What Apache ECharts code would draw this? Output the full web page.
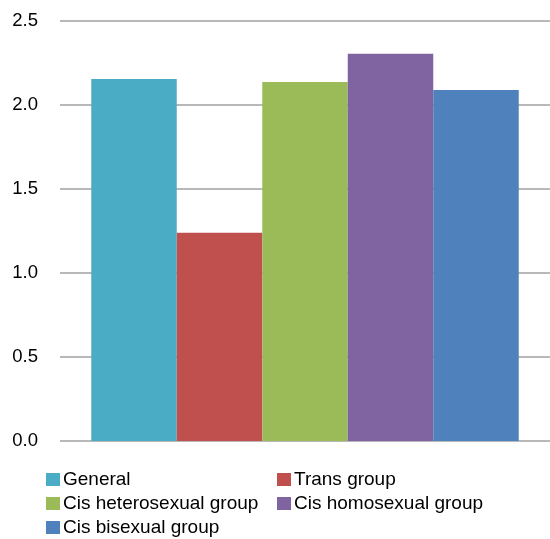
<!DOCTYPE html>
<html><head><meta charset="utf-8">
<script src="https://cdn.jsdelivr.net/npm/echarts@6/dist/echarts.min.js"></script>
<style>html,body{margin:0;padding:0;background:#fff}#c{width:550px;height:539px}</style>
</head><body><div id="c"></div>
<script>
const categories = [''];
const seriesNames = ['General', 'Trans group', 'Cis heterosexual group', 'Cis homosexual group', 'Cis bisexual group'];
const seriesValues = [2.155, 1.24, 2.137, 2.305, 2.09];
const colors = ['#4BACC6', '#C0504D', '#9BBB59', '#8064A2', '#4F81BD'];
const yTicks = { min: 0, max: 2.5, interval: 0.5 };

const font = 'Liberation Sans, Arial, sans-serif';
const legendPos = [[46, 470], [277, 470], [46, 494], [277, 494], [46, 518]];

const chart = echarts.init(document.getElementById('c'));
chart.setOption({
  animation: false,
  grid: { left: 60, right: -7, top: 21, bottom: 98 },
  xAxis: {
    type: 'category', data: categories,
    axisLine: { show: false }, axisTick: { show: false }, axisLabel: { show: false }
  },
  yAxis: {
    type: 'value', min: yTicks.min, max: yTicks.max, interval: yTicks.interval,
    axisLine: { show: false }, axisTick: { show: false },
    axisLabel: { formatter: v => v.toFixed(1), fontSize: 18.5, color: '#000', fontFamily: font, margin: 22 },
    splitLine: { lineStyle: { color: '#a0a0a0', width: 1.5 } }
  },
  legend: seriesNames.map((n, i) => ({
    data: [n], left: legendPos[i][0], top: legendPos[i][1],
    itemWidth: 14, itemHeight: 13, itemGap: 4, icon: 'rect',
    textStyle: { fontSize: 19, color: '#000', fontFamily: font, padding: [0, 0, 0, -2] },
    padding: 0
  })),
  series: seriesNames.map((n, i) => ({
    name: n, type: 'bar', data: [seriesValues[i]],
    barWidth: 85.5, barGap: '0%',
    itemStyle: { color: colors[i] }
  }))
});
</script></body></html>
